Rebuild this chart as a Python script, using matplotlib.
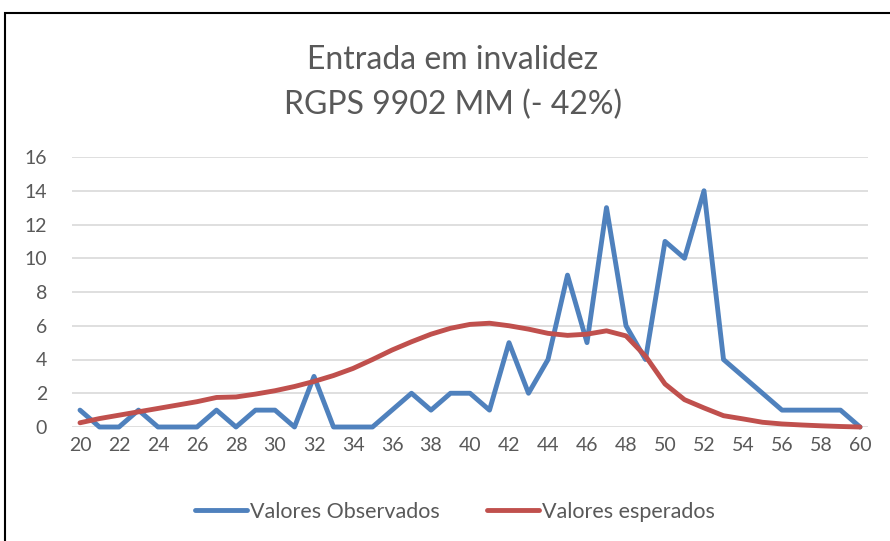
import matplotlib.pyplot as plt
from matplotlib.patches import Rectangle

plt.rcParams['font.family'] = ['Lato', 'DejaVu Sans']

idades = list(range(20, 61))
observados = [1, 0, 0, 1, 0, 0, 0, 1, 0, 1, 1, 0, 3, 0, 0, 0, 1, 2, 1, 2, 2,
              1, 5, 2, 4, 9, 5, 13, 6, 4, 11, 10, 14, 4, 3, 2, 1, 1, 1, 1, 0]
esperados = [0.25, 0.5, 0.7, 0.9, 1.1, 1.3, 1.5, 1.75, 1.78, 1.95, 2.15, 2.4,
             2.7, 3.05, 3.47, 4.0, 4.56, 5.05, 5.5, 5.85, 6.08, 6.15, 6.0,
             5.8, 5.55, 5.43, 5.5, 5.7, 5.4, 4.2, 2.55, 1.62, 1.13, 0.67,
             0.48, 0.28, 0.18, 0.12, 0.07, 0.03, 0.0]
xticks = list(range(20, 61, 2))
yticks = list(range(0, 17, 2))

W, H = 890, 541
fig = plt.figure(figsize=(W / 100, H / 100), dpi=100)

# moldura do gráfico
fig.patches.append(Rectangle((5 / W, -0.05), 1.0, (H - 13) / H + 0.05,
                             transform=fig.transFigure, fill=False,
                             edgecolor='black', linewidth=1.5))

ax = fig.add_axes([72 / W, (H - 427) / H, (868 - 72) / W, 270 / H])
ax.plot(idades, observados, color='#4F81BD', lw=3.5, label='Valores Observados',
        solid_joinstyle='round', solid_capstyle='round', clip_on=False, zorder=3)
ax.plot(idades, esperados, color='#C0504D', lw=3.5, label='Valores esperados',
        solid_joinstyle='round', solid_capstyle='round', clip_on=False, zorder=4)

ax.set_xlim(19.59, 60.41)
ax.set_ylim(0, 16)
ax.set_xticks(xticks)
ax.set_yticks(yticks)
ax.tick_params(length=0, labelsize=14, colors='#595959')
ax.tick_params(axis='y', pad=18)
ax.tick_params(axis='x', pad=7)
ax.grid(axis='y', color='#D9D9D9', lw=1.2)
ax.set_axisbelow(True)
for s in ax.spines.values():
    s.set_visible(False)

fig.text(453 / W, 1 - 60 / H, 'Entrada em invalidez', ha='center', va='center',
         fontsize=23, color='#595959')
fig.text(453 / W, 1 - 105 / H, 'RGPS 9902 MM (- 42%)', ha='center', va='center',
         fontsize=23, color='#595959')

fig.legend(loc='center', bbox_to_anchor=(455 / W, 1 - 512 / H), ncol=2,
           frameon=False, fontsize=15.5, labelcolor='#595959', handlelength=2.4,
           handletextpad=0.15, columnspacing=2.2)

fig.savefig('out.png', dpi=100)
